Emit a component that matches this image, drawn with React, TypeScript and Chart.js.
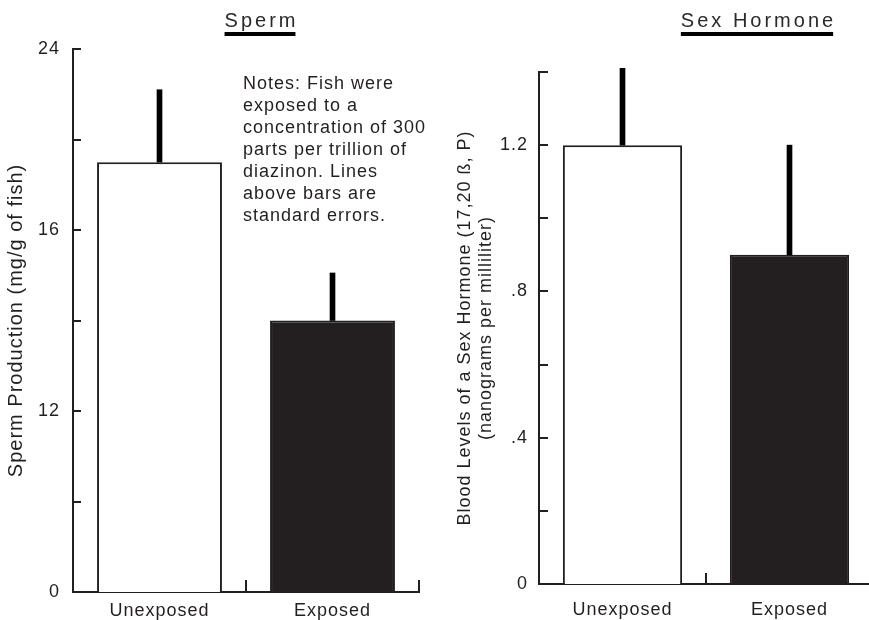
import React, { useEffect, useRef } from 'react';
import { Chart, registerables } from 'chart.js';

Chart.register(...registerables);

// ---------- data ----------
const categories = ['Unexposed', 'Exposed'];

const spermMeans = [19.0, 14.0];
const spermErrorTops = [22.2, 15.05];
// equally spaced tick marks on the (broken) sperm axis, and their labels
const spermTickValues = [0, 6, 12, 14, 16, 20, 24];
const spermTickLabels = ['0', '', '12', '', '16', '', '24'];

const hormoneMeans = [1.2, 0.9];
const hormoneErrorTops = [1.41, 1.2];
const hormoneMax = 1.4;
const hormoneStep = 0.2;
const hormoneLabeledTicks = [0, 0.4, 0.8, 1.2];
const hormoneTickLabels = ['0', '.4', '.8', '1.2'];

const notesLines = [
  'Notes: Fish were',
  'exposed to a',
  'concentration of 300',
  'parts per trillion of',
  'diazinon. Lines',
  'above bars are',
  'standard errors.',
];

const INK = '#231f20';
const FONT = "'Liberation Sans', Arial, Helvetica, sans-serif";

// position on the equally-spaced sperm axis for a real value
function spermPos(v: number): number {
  for (let i = 0; i < spermTickValues.length - 1; i++) {
    const a = spermTickValues[i];
    const b = spermTickValues[i + 1];
    if (v >= a && v <= b) return i + (v - a) / (b - a);
  }
  return spermTickValues.length - 1;
}

function makeDecor(opts: {
  title: string;
  titleX: number;
  notes?: string[];
  notesX?: number;
  notesY?: number;
  notesStep?: number;
  yTickLen: number;
  xTickLen: number;
}) {
  return {
    id: 'decor',
    beforeDraw(chart: any) {
      chart.ctx.letterSpacing = '1px';
    },
    afterDraw(chart: any) {
      const ctx = chart.ctx as CanvasRenderingContext2D;
      const { left, bottom } = chart.chartArea;
      const ys = chart.scales.y;
      const xs = chart.scales.x;
      ctx.save();
      ctx.strokeStyle = INK;
      ctx.lineWidth = 2;
      // inward y ticks
      ys.ticks.forEach((t: any) => {
        const py = Math.round(ys.getPixelForValue(t.value));
        ctx.beginPath();
        ctx.moveTo(left, py);
        ctx.lineTo(left + opts.yTickLen, py);
        ctx.stroke();
      });
      // upward x ticks at category boundaries
      for (let i = 0; i <= categories.length; i++) {
        const px = Math.round(xs.getPixelForValue(i - 0.5));
        ctx.beginPath();
        ctx.moveTo(px, bottom);
        ctx.lineTo(px, bottom - opts.xTickLen);
        ctx.stroke();
      }
      // title with thick underline
      ctx.letterSpacing = '3px';
      ctx.font = `20px ${FONT}`;
      ctx.fillStyle = '#2a2a2a';
      ctx.textAlign = 'left';
      ctx.textBaseline = 'alphabetic';
      const w = ctx.measureText(opts.title).width - 3;
      const tx = opts.titleX - w / 2;
      ctx.fillText(opts.title, tx, 27);
      ctx.fillStyle = '#000';
      ctx.fillRect(tx, 32, w, 4);
      // notes
      if (opts.notes) {
        ctx.letterSpacing = '1px';
        ctx.font = `18px ${FONT}`;
        ctx.fillStyle = INK;
        opts.notes.forEach((line, i) => {
          ctx.fillText(line, opts.notesX!, opts.notesY! + i * opts.notesStep!);
        });
      }
      ctx.restore();
    },
  };
}

const tickFont = { family: FONT, size: 18 };

export default function App() {
  const leftRef = useRef<HTMLCanvasElement>(null);
  const rightRef = useRef<HTMLCanvasElement>(null);

  useEffect(() => {
    const left = new Chart(leftRef.current!, {
      type: 'bar',
      data: {
        labels: categories,
        datasets: [
          {
            data: categories.map((_, i) => [spermPos(spermMeans[i]), spermPos(spermErrorTops[i])]),
            backgroundColor: '#000',
            borderWidth: 0,
            barThickness: 5,
            grouped: false,
            clip: false,
          } as any,
          {
            data: spermMeans.map(spermPos),
            backgroundColor: ['#ffffff', INK],
            borderColor: INK,
            borderWidth: 2,
            barPercentage: 0.722,
            categoryPercentage: 1,
            grouped: false,
          },
        ],
      },
      options: {
        responsive: false,
        animation: false,
        layout: { padding: { left: 0, top: 49, right: 21, bottom: 0 } },
        plugins: { legend: { display: false }, tooltip: { enabled: false } },
        scales: {
          x: {
            grid: { display: false, drawTicks: false },
            border: { display: true, color: INK, width: 2 },
            ticks: { font: tickFont, color: INK, padding: 8 },
            afterFit: (s: any) => { s.height = 28; },
          },
          y: {
            min: 0,
            max: spermTickValues.length - 1,
            grid: { display: false, drawTicks: false },
            border: { display: true, color: INK, width: 2 },
            ticks: {
              stepSize: 1,
              font: tickFont,
              color: INK,
              padding: 13,
              callback: (v: any) => spermTickLabels[Math.round(Number(v))] ?? '',
            },
            title: {
              display: true,
              text: 'Sperm Production (mg/g of fish)',
              font: { family: FONT, size: 20, lineHeight: 1.2 },
              color: INK,
              padding: { top: 4, bottom: 0 },
            },
            afterFit: (s: any) => { s.width = 73; },
          },
        },
      } as any,
      plugins: [
        makeDecor({
          title: 'Sperm',
          titleX: 260,
          notes: notesLines,
          notesX: 243,
          notesY: 89,
          notesStep: 22,
          yTickLen: 8,
          xTickLen: 12,
        }),
      ],
    });

    const right = new Chart(rightRef.current!, {
      type: 'bar',
      data: {
        labels: categories,
        datasets: [
          {
            data: categories.map((_, i) => [hormoneMeans[i], hormoneErrorTops[i]]),
            backgroundColor: '#000',
            borderWidth: 0,
            barThickness: 5,
            grouped: false,
            clip: false,
          } as any,
          {
            data: hormoneMeans,
            backgroundColor: ['#ffffff', INK],
            borderColor: INK,
            borderWidth: 2,
            barPercentage: 0.714,
            categoryPercentage: 1,
            grouped: false,
          },
        ],
      },
      options: {
        responsive: false,
        animation: false,
        layout: { padding: { left: 0, top: 72, right: 7, bottom: 0 } },
        plugins: { legend: { display: false }, tooltip: { enabled: false } },
        scales: {
          x: {
            grid: { display: false, drawTicks: false },
            border: { display: true, color: INK, width: 2 },
            ticks: { font: tickFont, color: INK, padding: 15 },
            afterFit: (s: any) => { s.height = 36; },
          },
          y: {
            min: 0,
            max: hormoneMax,
            grid: { display: false, drawTicks: false },
            border: { display: true, color: INK, width: 2 },
            ticks: {
              stepSize: hormoneStep,
              font: tickFont,
              color: INK,
              padding: 11,
              callback: (v: any) => {
                const i = hormoneLabeledTicks.findIndex((t) => Math.abs(t - Number(v)) < 1e-6);
                return i >= 0 ? hormoneTickLabels[i] : '';
              },
            },
            title: {
              display: true,
              text: ['Blood Levels of a Sex Hormone (17,20 ß, P)', '(nanograms per milliliter)'],
              font: { family: FONT, size: 18, lineHeight: 1.2 },
              color: INK,
              padding: { top: 14, bottom: 0 },
            },
            afterFit: (s: any) => { s.width = 99; },
          },
        },
      } as any,
      plugins: [
        makeDecor({
          title: 'Sex Hormone',
          titleX: 317,
          yTickLen: 9,
          xTickLen: 11,
        }),
      ],
    });

    return () => {
      left.destroy();
      right.destroy();
    };
  }, []);

  return (
    <div
      style={{
        position: 'fixed',
        left: 0,
        top: 0,
        width: 869,
        height: 620,
        overflow: 'hidden',
        background: '#fff',
      }}
    >
      <canvas
        ref={leftRef}
        width={440}
        height={620}
        style={{ position: 'absolute', left: 0, top: 0, width: 440, height: 620 }}
      />
      <canvas
        ref={rightRef}
        width={440}
        height={620}
        style={{ position: 'absolute', left: 440, top: 0, width: 440, height: 620 }}
      />
    </div>
  );
}
